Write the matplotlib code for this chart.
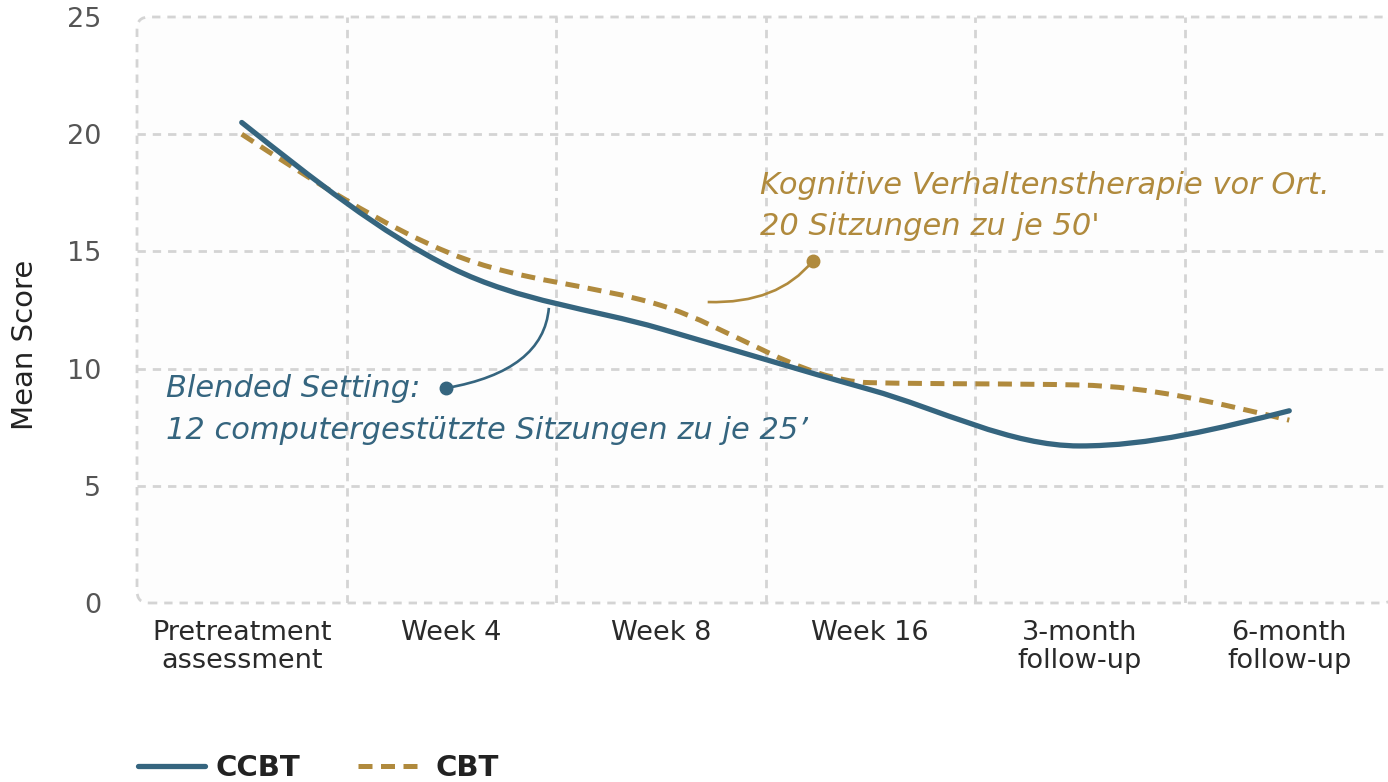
import numpy as np
import matplotlib
matplotlib.use("Agg")
import matplotlib.pyplot as plt
from matplotlib.path import Path
from matplotlib.patches import PathPatch, FancyBboxPatch
from matplotlib.lines import Line2D

# data
categories = ["Pretreatment\nassessment", "Week 4", "Week 8", "Week 16",
              "3-month\nfollow-up", "6-month\nfollow-up"]
ccbt = [20.5, 14.3, 11.7, 9.1, 6.7, 8.2]
cbt = [20.0, 14.9, 12.7, 9.4, 9.3, 7.8]
y_ticks = [0, 5, 10, 15, 20, 25]

BLUE = "#35657f"
GOLD = "#b08a3d"
GRID = "#d4d4d4"

plt.rcParams["font.family"] = ["DejaVu Sans"]


def monotone_path(xs, ys):
    # cubic bezier segments like d3.curveMonotoneX
    xs = np.asarray(xs, float)
    ys = np.asarray(ys, float)
    h = np.diff(xs)
    s = np.diff(ys) / h
    m = np.zeros(len(xs))
    for i in range(1, len(xs) - 1):
        p = (s[i - 1] * h[i] + s[i] * h[i - 1]) / (h[i - 1] + h[i])
        m[i] = (np.sign(s[i - 1]) + np.sign(s[i])) * min(abs(s[i - 1]), abs(s[i]), 0.5 * abs(p))
    m[0] = (3 * s[0] - m[1]) / 2
    m[-1] = (3 * s[-1] - m[-2]) / 2
    verts = [(xs[0], ys[0])]
    codes = [Path.MOVETO]
    for i in range(len(xs) - 1):
        d = h[i] / 3
        verts += [(xs[i] + d, ys[i] + m[i] * d),
                  (xs[i + 1] - d, ys[i + 1] - m[i + 1] * d),
                  (xs[i + 1], ys[i + 1])]
        codes += [Path.CURVE4] * 3
    return Path(verts, codes)


fig = plt.figure(figsize=(13.88, 7.82), dpi=100)
ax_w, ax_h = 1257, 586
ax = fig.add_axes([137 / 1388, 1 - 603 / 782, ax_w / 1388, ax_h / 782])
ax.set_facecolor("none")

x = np.arange(len(categories))
ax.set_xlim(-0.5, len(categories) - 0.5)
ax.set_ylim(0, 25)

# rounded dashed plot border
border = FancyBboxPatch((0, 0), 1, 1, boxstyle="round,pad=0,rounding_size=0.0095",
                        mutation_aspect=ax_w / ax_h, transform=ax.transAxes,
                        facecolor="#fdfdfd", edgecolor=GRID, linewidth=2.0,
                        linestyle=(0, (3, 2.5)), zorder=0, clip_on=False)
ax.add_patch(border)

for yv in y_ticks[1:-1]:
    ax.axhline(yv, color=GRID, lw=2.0, ls=(0, (3, 2.5)), zorder=1)
for xv in np.arange(0.5, len(categories) - 0.5):
    ax.axvline(xv, color=GRID, lw=2.0, ls=(0, (3, 2.5)), zorder=1)

for sp in ax.spines.values():
    sp.set_visible(False)

ax.set_xticks(x)
ax.set_xticklabels(categories, fontsize=19.5, color="#2a2a2a", linespacing=1.1)
ax.set_yticks(y_ticks)
ax.set_yticklabels([str(v) for v in y_ticks], fontsize=19.5, color="#555555")
ax.tick_params(axis="both", length=0)
ax.tick_params(axis="x", pad=12)
ax.tick_params(axis="y", pad=26)
fig.text(25 / 1388, 1 - 345 / 782, "Mean Score", rotation=90, fontsize=21,
         color="#222222", ha="center", va="center")

ax.add_patch(PathPatch(monotone_path(x, ccbt), fill=False, edgecolor=BLUE, lw=3.8,
                       capstyle="round", joinstyle="round", zorder=4))
ax.add_patch(PathPatch(monotone_path(x, cbt), fill=False, edgecolor=GOLD, lw=3.6,
                       linestyle=(0, (2.8, 1.7)), capstyle="butt", zorder=3))

# annotations
ax.text(2.472, 17.83, "Kognitive Verhaltenstherapie vor Ort.", color=GOLD, fontsize=22,
        style="italic", va="center", ha="left")
ax.text(2.472, 16.08, "20 Sitzungen zu je 50'", color=GOLD, fontsize=22,
        style="italic", va="center", ha="left")
gold_curve = Path([(2.224, 12.84), (2.56, 12.75), (2.725, 14.59)],
                  [Path.MOVETO, Path.CURVE3, Path.CURVE3])
ax.add_patch(PathPatch(gold_curve, fill=False, edgecolor=GOLD, lw=1.9, zorder=5))
ax.plot([2.725], [14.59], "o", color=GOLD, ms=9, zorder=6)

ax.text(-0.362, 9.13, "Blended Setting:", color=BLUE, fontsize=22,
        style="italic", va="center", ha="left")
ax.text(-0.362, 7.38, "12 computergestützte Sitzungen zu je 25’", color=BLUE, fontsize=22,
        style="italic", va="center", ha="left")
blue_curve = Path([(0.977, 9.17), (1.44, 9.9), (1.466, 12.59)],
                  [Path.MOVETO, Path.CURVE3, Path.CURVE3])
ax.add_patch(PathPatch(blue_curve, fill=False, edgecolor=BLUE, lw=1.9, zorder=5))
ax.plot([0.977], [9.17], "o", color=BLUE, ms=9, zorder=6)

handles = [Line2D([], [], color=BLUE, lw=3.8, solid_capstyle="round"),
           Line2D([], [], color=GOLD, lw=3.6, ls=(0, (2.8, 1.7)))]
fig.legend(handles, ["CCBT", "CBT"], loc="center left", bbox_to_anchor=(138 / 1388, 1 - 768 / 782),
           ncol=2, frameon=False, handlelength=2.3, handletextpad=0.35, columnspacing=2.0,
           borderpad=0, borderaxespad=0, labelcolor="#222222",
           prop={"size": 21, "weight": "bold"})

fig.savefig("out.png", dpi=100)
